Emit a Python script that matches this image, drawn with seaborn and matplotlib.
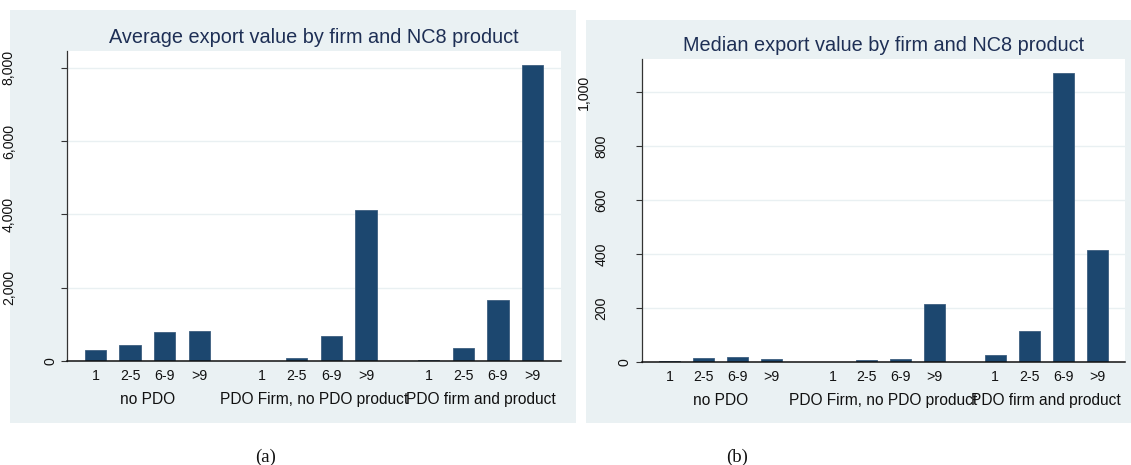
import matplotlib
matplotlib.use("Agg")
import matplotlib.pyplot as plt
import matplotlib.patches as mpatches
import numpy as np
import pandas as pd
import seaborn as sns

# ---- data -------------------------------------------------------------
groups = ["no PDO", "PDO Firm, no PDO product", "PDO firm and product"]
bins = ["1", "2-5", "6-9", ">9"]

# average export value by firm and NC8 product (per group, per bin)
avg_no_pdo = [300, 436, 800, 818]
avg_pdo_firm = [0, 73, 673, 4111]
avg_pdo_both = [20, 364, 1664, 8076]

# median export value by firm and NC8 product
med_no_pdo = [6, 15, 21, 12]
med_pdo_firm = [0, 10, 13, 217]
med_pdo_both = [28, 115, 1073, 415]

avg_ticks = [0, 2000, 4000, 6000, 8000]
med_ticks = [0, 200, 400, 600, 800, 1000]

# ---- style ------------------------------------------------------------
sns.set_style("white")
plt.rcParams["font.family"] = ["Liberation Sans", "DejaVu Sans"]

W, H = 1131, 465
DPI = 100
BG = "#eaf1f3"
BAR = "#1c476f"
BAR_EDGE = "#3d5f80"
TITLE_C = "#1e2f55"
TXT = "#111111"
FS = 10.2          # tick labels
FS_GROUP = 11.2    # group labels under the bins
FS_TITLE = 14.3
GROUP_STRIDE = 4.8   # bins per group plus the gap to the next group
BAR_W = 0.615


def frac(x0, y0, x1, y1):
    """Rectangle given in pixel coords (origin top-left) -> figure fraction."""
    return [x0 / W, 1 - y1 / H, (x1 - x0) / W, (y1 - y0) / H]


def make_frame(series):
    rows = []
    for g, (name, vals) in enumerate(zip(groups, series)):
        for i, (b, v) in enumerate(zip(bins, vals)):
            rows.append({"group": name, "bin": b, "pos": i + g * GROUP_STRIDE,
                         "value": v})
    return pd.DataFrame(rows)


def label_width_px(s):
    fs_px = FS * DPI / 72
    return fs_px * sum(0.278 if c == "," else 0.556 for c in s)


def draw_panel(ax, df, title, ticks, ymax):
    sns.barplot(data=df, x="pos", y="value", native_scale=True, width=BAR_W,
                color=BAR, edgecolor=BAR_EDGE, linewidth=0.6, errorbar=None,
                saturation=1, ax=ax)
    ax.set_facecolor("white")
    last = df["pos"].max()
    ax.set_xlim(-0.82, last + 0.82)
    ax.set_ylim(0, ymax)
    ax.set_xlabel("")
    ax.set_ylabel("")

    # x: bin labels under each bar, group labels under each group
    ax.set_xticks(df["pos"].tolist())
    ax.set_xticklabels(df["bin"].tolist(), fontsize=FS, color=TXT)
    ax.tick_params(axis="x", length=0, pad=5.5)
    for name, sub in df.groupby("group", sort=False):
        ax.annotate(name, xy=(sub["pos"].mean(), 0),
                    xycoords=("data", "axes fraction"),
                    xytext=(0, -27.6), textcoords="offset points",
                    ha="center", va="center", fontsize=FS_GROUP, color=TXT,
                    annotation_clip=False)

    # y: ticks and grid; labels rotated and drawn by hand
    ax.set_yticks(ticks)
    ax.set_yticklabels([])
    ax.tick_params(axis="y", length=4.3, width=0.8, color="#333333",
                   direction="out", left=True)
    ax.yaxis.grid(True, color="#e9f0f2", linewidth=1.0)
    ax.set_axisbelow(True)
    for t in ticks:
        lab = f"{t:,}"
        off_px = 5 + 1.5 * label_width_px(lab)
        ax.annotate(lab, xy=(0, t), xycoords=("axes fraction", "data"),
                    xytext=(-off_px * 72 / DPI, 0), textcoords="offset points",
                    rotation=90, ha="center", va="center",
                    fontsize=FS, color=TXT, annotation_clip=False)

    for side in ("top", "right"):
        ax.spines[side].set_visible(False)
    ax.spines["left"].set_color("#333333")
    ax.spines["left"].set_linewidth(0.9)
    ax.spines["bottom"].set_color("#111111")
    ax.spines["bottom"].set_linewidth(1.1)

    ax.set_title(title, fontsize=FS_TITLE, color=TITLE_C, pad=5.5)


fig = plt.figure(figsize=(W / DPI, H / DPI), dpi=DPI)
fig.patch.set_facecolor("white")

# panel backgrounds, kept behind the axes
for x0, y0, x1, y1 in [(10, 10, 576, 423), (586, 20, 1131, 423)]:
    r = frac(x0, y0, x1, y1)
    fig.patches.append(mpatches.Rectangle((r[0], r[1]), r[2], r[3],
                                          transform=fig.transFigure,
                                          facecolor=BG, edgecolor="none",
                                          zorder=-5))

ax1 = fig.add_axes(frac(67, 51, 561, 361))
ax2 = fig.add_axes(frac(641.7, 59, 1125, 362.3))
for ax in (ax1, ax2):
    ax.set_zorder(2)

draw_panel(ax1, make_frame([avg_no_pdo, avg_pdo_firm, avg_pdo_both]),
           "Average export value by firm and NC8 product", avg_ticks, 8458)
draw_panel(ax2, make_frame([med_no_pdo, med_pdo_firm, med_pdo_both]),
           "Median export value by firm and NC8 product", med_ticks, 1123)

fig.text(266 / W, 1 - 457 / H, "(a)", ha="center", va="center",
         fontsize=13.5, family="Liberation Serif", color="#111111")
fig.text(737 / W, 1 - 457 / H, "(b)", ha="center", va="center",
         fontsize=13.5, family="Liberation Serif", color="#111111")

fig.savefig("out.png", dpi=DPI, facecolor="white")
